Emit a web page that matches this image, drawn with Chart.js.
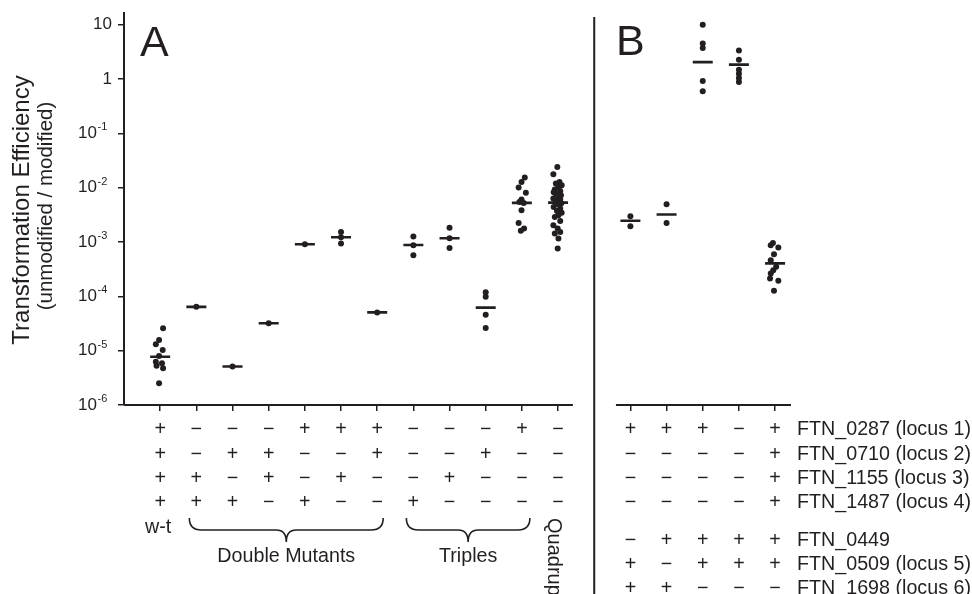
<!DOCTYPE html>
<html>
<head>
<meta charset="utf-8">
<script src="https://cdn.jsdelivr.net/npm/chart.js@4/dist/chart.umd.min.js"></script>
<style>
  html, body { margin: 0; padding: 0; background: #fff; }
  #c { display: block; }
</style>
</head>
<body>
<canvas id="c" width="972" height="594"></canvas>
<script>
const ink = '#231f20';
const FONT = '"Liberation Sans", Arial, sans-serif';

// y axis ticks
const yTicks = [1e-6, 1e-5, 1e-4, 1e-3, 1e-2, 1e-1, 1, 10];
const yTickBase = ['10', '10', '10', '10', '10', '10', '1', '10'];
const yTickExp = ['-6', '-5', '-4', '-3', '-2', '-1', '', ''];

// panel A: 12 strains (w-t, double mutants, triples, quadruple)
const groupsA = [0, 1, 2, 3, 4, 5, 6, 7, 8, 9, 10, 11];
const valuesA = [
    [2.57e-5, 1.57e-5, 1.31e-5, 1.03e-5, 7.96e-6, 6.25e-6, 5.85e-6, 5.28e-6, 4.73e-6, 2.5e-6],
    [6.4e-5],
    [5.1e-6],
    [3.2e-5],
    [9.1e-4],
    [1.53e-3, 1.22e-3, 9.4e-4],
    [5.06e-5],
    [1.26e-3, 8.7e-4, 5.7e-4],
    [1.82e-3, 1.17e-3, 7.7e-4],
    [1.19e-4, 9.8e-5, 4.57e-5, 2.6e-5],
    [0.01534, 0.01274, 0.01005, 0.008, 0.00604, 0.00546, 0.00523, 0.00384, 0.00224, 0.00177, 0.0016],
    [0.024, 0.0176, 0.0127, 0.0119, 0.0111, 0.0103, 0.00923, 0.00869, 0.0082, 0.0078, 0.00725,
     0.00695, 0.0063, 0.00604, 0.00574, 0.00546, 0.00516, 0.00495, 0.00442, 0.00413, 0.00373,
     0.00346, 0.00311, 0.00289, 0.00244, 0.00204, 0.00177, 0.00153, 0.00143, 0.00116, 0.00076]
];
const jitterA = [
    [0.08, -0.03, -0.12, 0.07, -0.03, -0.12, 0.05, -0.1, 0.08, -0.03],
    [0], [0], [0], [0],
    [0, 0, 0],
    [0],
    [0, 0, 0],
    [0, 0, 0],
    [0, 0, 0, 0],
    [0.08, -0.01, -0.09, 0.11, -0.01, -0.07, 0.05, -0.01, -0.09, 0.06, -0.03],
    [-0.02, -0.13, 0.04, -0.06, 0.1, 0.01, -0.09, 0.06, -0.12, -0.06, 0.08,
     0.01, -0.13, 0.06, -0.04, -0.06, 0.09, 0.01, -0.12, 0.06, -0.03,
     0.1, 0.01, -0.09, 0.06, -0.13, -0.01, 0.06, -0.09, 0.01, -0.01]
];
const meansA = [7.7e-6, 6.4e-5, 5.1e-6, 3.2e-5, 9.1e-4, 1.22e-3, 5.06e-5, 8.8e-4, 1.17e-3, 6.2e-5, 5.23e-3, 5.3e-3];

// panel B: 5 strains
const groupsB = [13, 14, 15, 16, 17];
const valuesB = [
    [0.00298, 0.00195],
    [0.00495, 0.00224],
    [9.96, 4.46, 3.7, 0.915, 0.59],
    [3.35, 2.26, 1.48, 1.25, 1.04, 0.877],
    [9.6e-4, 8.7e-4, 7.9e-4, 5.97e-4, 4.63e-4, 3.49e-4, 3.03e-4, 2.64e-4, 2.13e-4, 1.93e-4, 1.26e-4]
];
const jitterB = [
    [0, 0],
    [0, 0],
    [0, 0, 0, 0, 0],
    [0, 0, 0, 0, 0, 0],
    [-0.06, -0.12, 0.09, -0.03, -0.12, 0.03, -0.05, -0.12, -0.14, 0.09, -0.03]
];
const meansB = [0.00245, 0.0032, 2.04, 1.83, 4.03e-4];

// genotype table
const rowsA = ['+---+++---+-', '+-++--+--+--', '++-+-+--+---', '+++-+--+----'];
const rowsB = ['+++-+', '----+', '----+', '----+', '-++++', '+-+++', '++---'];
const rowNames = ['FTN_0287 (locus 1)', 'FTN_0710 (locus 2)', 'FTN_1155 (locus 3)', 'FTN_1487 (locus 4)',
                  'FTN_0449', 'FTN_0509 (locus 5)', 'FTN_1698 (locus 6)'];

const xTicks = groupsA.concat(groupsB);

const points = [];
const means = [];
groupsA.forEach((g, i) => {
    valuesA[i].forEach((v, j) => points.push({x: g + (jitterA[i][j] || 0), y: v}));
    means.push({x: g, y: meansA[i]});
});
groupsB.forEach((g, i) => {
    valuesB[i].forEach((v, j) => points.push({x: g + (jitterB[i][j] || 0), y: v}));
    means.push({x: g, y: meansB[i]});
});

const decor = {
    id: 'decor',
    afterDraw(chart) {
        const {ctx, chartArea, scales: {x, y}} = chart;
        ctx.save();
        ctx.strokeStyle = ink;
        ctx.fillStyle = ink;

        // x axis pieces and the panel divider
        ctx.lineWidth = 2;
        ctx.beginPath();
        ctx.moveTo(x.getPixelForValue(-1), chartArea.bottom);
        ctx.lineTo(x.getPixelForValue(11.41), chartArea.bottom);
        ctx.moveTo(x.getPixelForValue(12.6), chartArea.bottom);
        ctx.lineTo(x.getPixelForValue(17.44), chartArea.bottom);
        ctx.moveTo(x.getPixelForValue(12), 17);
        ctx.lineTo(x.getPixelForValue(12), 594);
        ctx.stroke();

        // y tick labels with superscripts
        ctx.textBaseline = 'middle';
        yTicks.forEach((v, i) => {
            const py = y.getPixelForValue(v);
            ctx.font = '17px ' + FONT;
            ctx.textAlign = 'right';
            if (yTickExp[i]) {
                ctx.fillText(yTickBase[i], 97, py);
                ctx.font = '11px ' + FONT;
                ctx.textAlign = 'left';
                ctx.fillText(yTickExp[i], 97.5, py - 6);
            } else {
                ctx.fillText(yTickBase[i], 112, py);
            }
        });

        // panel letters
        ctx.textBaseline = 'alphabetic';
        ctx.textAlign = 'left';
        ctx.font = '43px ' + FONT;
        ctx.fillText('A', 140, 56);
        ctx.fillText('B', 616, 55);

        // y title
        ctx.save();
        ctx.translate(29, 210);
        ctx.rotate(-Math.PI / 2);
        ctx.textAlign = 'center';
        ctx.font = '24px ' + FONT;
        ctx.fillText('Transformation Efficiency', 0, 0);
        ctx.restore();
        ctx.save();
        ctx.translate(52, 206);
        ctx.rotate(-Math.PI / 2);
        ctx.textAlign = 'center';
        ctx.font = '20.5px ' + FONT;
        ctx.fillText('(unmodified / modified)', 0, 0);
        ctx.restore();

        // genotype table
        const rowY = [430, 454.5, 479, 503, 541, 565, 589];
        ctx.textAlign = 'center';
        ctx.textBaseline = 'middle';
        ctx.font = '19.7px ' + FONT;
        const sym = c => (c === '+' ? '+' : '\u2212');
        rowsA.forEach((row, r) => {
            groupsA.forEach((g, i) => ctx.fillText(sym(row[i]), x.getPixelForValue(g), rowY[r]));
        });
        rowsB.forEach((row, r) => {
            groupsB.forEach((g, i) => ctx.fillText(sym(row[i]), x.getPixelForValue(g), rowY[r]));
        });
        ctx.textAlign = 'left';
        rowNames.forEach((name, r) => ctx.fillText(name, 797, rowY[r]));

        // group labels and braces
        ctx.textAlign = 'center';
        ctx.fillText('w-t', x.getPixelForValue(0) - 2, 528);
        const brace = (x0, x1, top) => {
            const mid = (x0 + x1) / 2;
            const h = top + 12, tip = top + 24;
            ctx.beginPath();
            ctx.moveTo(x0, top);
            ctx.quadraticCurveTo(x0, h, x0 + 12, h);
            ctx.lineTo(mid - 10, h);
            ctx.quadraticCurveTo(mid, h, mid, tip);
            ctx.quadraticCurveTo(mid, h, mid + 10, h);
            ctx.lineTo(x1 - 12, h);
            ctx.quadraticCurveTo(x1, h, x1, top);
            ctx.lineWidth = 1.6;
            ctx.stroke();
        };
        const dA = x.getPixelForValue(1) - 7, dB = x.getPixelForValue(6) + 6;
        const tA = x.getPixelForValue(7) - 7, tB = x.getPixelForValue(10) + 8;
        brace(dA, dB, 518);
        brace(tA, tB, 518);
        ctx.fillText('Double Mutants', (dA + dB) / 2, 557);
        ctx.fillText('Triples', (tA + tB) / 2, 557);

        ctx.save();
        ctx.translate(x.getPixelForValue(11) - 10, 518);
        ctx.rotate(Math.PI / 2);
        ctx.textAlign = 'left';
        ctx.textBaseline = 'alphabetic';
        ctx.font = '20px ' + FONT;
        ctx.fillText('Quadruple', 0, 0);
        ctx.restore();

        ctx.restore();
    }
};

new Chart(document.getElementById('c'), {
    type: 'scatter',
    data: {
        datasets: [
            {
                data: points,
                pointRadius: 3,
                pointBackgroundColor: ink,
                pointBorderWidth: 0
            },
            {
                data: means,
                pointStyle: 'line',
                pointRadius: 10,
                pointBorderColor: ink,
                pointBorderWidth: 2.6
            }
        ]
    },
    options: {
        responsive: false,
        animation: false,
        layout: {padding: {left: 118, right: 181, top: 12, bottom: 183}},
        plugins: {legend: {display: false}, tooltip: {enabled: false}},
        scales: {
            x: {
                type: 'linear',
                min: -1,
                max: 17.44,
                afterBuildTicks: s => { s.ticks = xTicks.map(v => ({value: v})); },
                afterFit: s => { s.height = 6; },
                ticks: {display: false},
                grid: {drawOnChartArea: false, tickLength: 6, color: ink, lineWidth: 1.5},
                border: {display: false}
            },
            y: {
                type: 'logarithmic',
                min: 1e-6,
                max: 16.6,
                afterBuildTicks: s => { s.ticks = yTicks.map(v => ({value: v})); },
                afterFit: s => { s.width = 6; },
                ticks: {display: false},
                grid: {drawOnChartArea: false, tickLength: 6, color: ink, lineWidth: 1.5},
                border: {display: true, color: ink, width: 2}
            }
        }
    },
    plugins: [decor]
});
</script>
</body>
</html>
